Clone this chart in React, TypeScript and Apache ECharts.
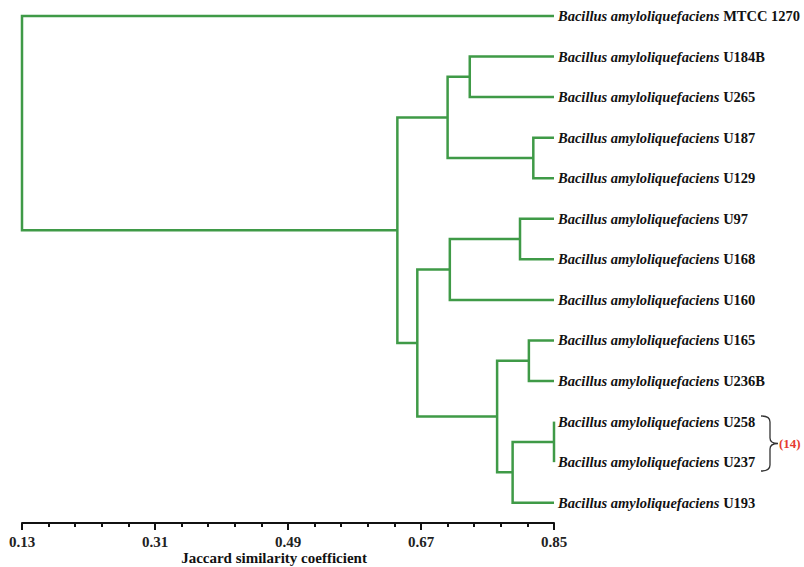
import React, { useEffect, useRef } from "react";
import * as echarts from "echarts";

// ---- Data ----
const GENUS = "Bacillus amyloliquefaciens";
const LEAVES = ["MTCC 1270", "U184B", "U265", "U187", "U129", "U97", "U168", "U160", "U165", "U236B", "U258", "U237", "U193"];
const LEAF_SIMILARITY = 0.85;

// Agglomerative merges (upper child, lower child, Jaccard similarity of the join)
const NODE_IDS = ["n1", "n2", "n3", "n4", "n5", "n6", "n7", "n8", "n9", "n10", "n11", "n12"];
const NODE_UPPER = ["U258", "U184B", "U187", "U97", "U165", "n1", "n4", "n5", "n2", "n7", "n9", "MTCC 1270"];
const NODE_LOWER = ["U237", "U265", "U129", "U168", "U236B", "U193", "U160", "n6", "n3", "n8", "n10", "n11"];
const NODE_SIMILARITY = [0.85, 0.736, 0.822, 0.804, 0.816, 0.794, 0.709, 0.773, 0.706, 0.665, 0.638, 0.13];

const AXIS_MIN = 0.13;
const AXIS_MAX = 0.85;
const MAJOR_TICKS = [0.13, 0.31, 0.49, 0.67, 0.85];
const MINOR_TICKS = [0.166, 0.202, 0.238, 0.274, 0.346, 0.382, 0.418, 0.454, 0.526, 0.562, 0.598, 0.634, 0.706, 0.742, 0.778, 0.814];
const LEAF_POSITIONS = LEAVES.map((_, i) => i);

const GREEN = "#3f9a47";
const SERIF = "'Liberation Serif', 'Times New Roman', serif";

function buildLinks() {
  const pos: Record<string, number> = {};
  const sim: Record<string, number> = {};
  LEAVES.forEach((l, i) => {
    pos[l] = i;
    sim[l] = LEAF_SIMILARITY;
  });
  const rows: number[][] = [];
  NODE_IDS.forEach((id, k) => {
    const a = NODE_UPPER[k];
    const b = NODE_LOWER[k];
    pos[id] = (pos[a] + pos[b]) / 2;
    sim[id] = NODE_SIMILARITY[k];
    rows.push([NODE_SIMILARITY[k], sim[a], pos[a], sim[b], pos[b]]);
  });
  return rows;
}

export default function App() {
  const ref = useRef<HTMLDivElement>(null);
  useEffect(() => {
    if (!ref.current) return;
    echarts.graphic.registerShape(
      "brace",
      echarts.graphic.extendPath(
        "M0,0 C6,0 9,2 9,6 L9,22 C9,26 12,27.5 17,27.5 C12,27.5 9,29 9,33 L9,49 C9,53 6,55 0,55",
        {}
      )
    );
    const chart = echarts.init(ref.current, null, { renderer: "svg" });
    const links = buildLinks();
    chart.setOption({
      animation: false,
      backgroundColor: "#ffffff",
      grid: { left: 22, right: 250, top: 16, bottom: 44, containLabel: false, outerBoundsMode: "none" },
      xAxis: [
        {
          type: "value",
          min: AXIS_MIN,
          max: AXIS_MAX,
          position: "bottom",
          axisLine: { show: true, onZero: false, lineStyle: { color: "#111", width: 2 } },
          axisTick: { show: true, customValues: MAJOR_TICKS, length: 7, inside: false, lineStyle: { color: "#111", width: 2 } },
          axisLabel: {
            show: true,
            customValues: MAJOR_TICKS,
            formatter: (v: number) => v.toFixed(2),
            margin: 11,
            fontFamily: SERIF,
            fontWeight: "bold",
            fontSize: 15,
            color: "#222",
          },
          splitLine: { show: false },
          name: "Jaccard similarity coefficient",
          nameLocation: "middle",
          nameGap: 27,
          nameMoveOverlap: false,
          nameTextStyle: { fontFamily: SERIF, fontWeight: "bold", fontSize: 15, color: "#111", padding: [0, 28, 0, 0] },
        },
        {
          type: "value",
          min: AXIS_MIN,
          max: AXIS_MAX,
          position: "bottom",
          offset: 0,
          axisLine: { show: false, onZero: false },
          axisTick: { show: true, customValues: MINOR_TICKS, length: 4, inside: false, lineStyle: { color: "#111", width: 2 } },
          axisLabel: { show: false },
          splitLine: { show: false },
        },
      ],
      yAxis: {
        type: "value",
        min: 0,
        max: 12.5,
        inverse: true,
        position: "right",
        axisLine: { show: false },
        axisTick: { show: false },
        splitLine: { show: false },
        axisLabel: {
          show: true,
          customValues: LEAF_POSITIONS,
          margin: 4,
          formatter: (v: number) => `{i|${GENUS}}{n| ${LEAVES[Math.round(v)]}}`,
          rich: {
            i: { fontFamily: SERIF, fontStyle: "italic", fontWeight: "bold", fontSize: 14.5, color: "#111" },
            n: { fontFamily: SERIF, fontWeight: "bold", fontSize: 14.5, color: "#111" },
          },
        },
      },
      series: [
        {
          type: "custom",
          xAxisIndex: 0,
          yAxisIndex: 0,
          data: links,
          encode: { x: [0, 1, 3], y: [2, 4] },
          silent: true,
          renderItem: (params: any, api: any) => {
            const h = api.value(0);
            const ah = api.value(1);
            const ay = api.value(2);
            const bh = api.value(3);
            const by = api.value(4);
            const p1 = api.coord([ah, ay]);
            const p2 = api.coord([h, ay]);
            const p3 = api.coord([h, by]);
            const p4 = api.coord([bh, by]);
            return {
              type: "polyline",
              shape: { points: [p1, p2, p3, p4] },
              style: { stroke: GREEN, lineWidth: 2.5, fill: "none", lineJoin: "miter" },
            };
          },
        },
      ],
      graphic: [
        {
          type: "brace",
          x: 761,
          y: 416,
          style: { stroke: "#333", lineWidth: 1.3, fill: "none" },
        },
        {
          type: "text",
          x: 779,
          y: 443,
          style: {
            text: "(14)",
            fill: "#e53b2f",
            font: `bold 13px ${SERIF}`,
            verticalAlign: "middle",
          },
        },
      ],
    });
    return () => chart.dispose();
  }, []);
  return <div ref={ref} style={{ position: "fixed", left: 0, top: 0, width: 804, height: 567 }} />;
}
